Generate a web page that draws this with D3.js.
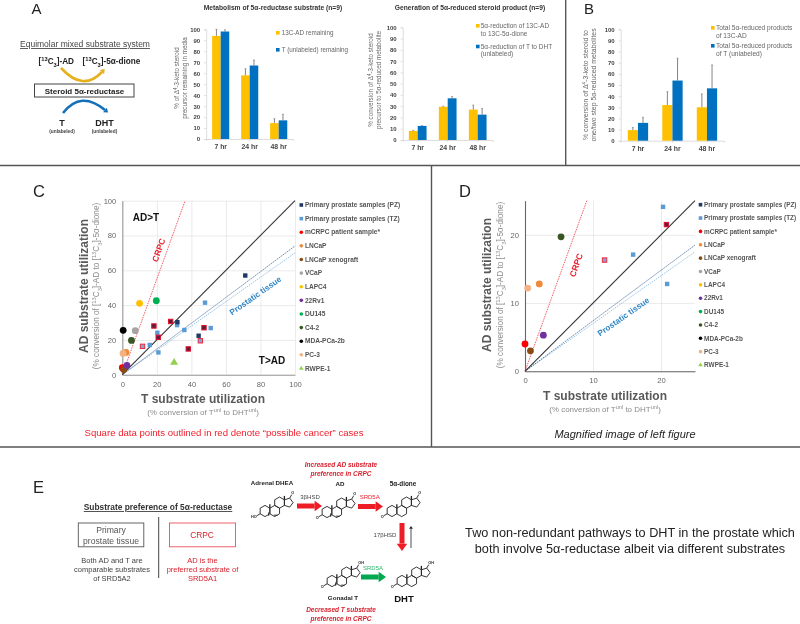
<!DOCTYPE html>
<html>
<head>
<meta charset="utf-8">
<script src="https://cdnjs.cloudflare.com/ajax/libs/d3/7.8.5/d3.min.js"></script>
<style>
html, body { margin: 0; padding: 0; background: #fff; }
svg { display: block; filter: blur(0.4px); }
text { font-family: "Liberation Sans", Arial, sans-serif; }
</style>
</head>
<body>
<svg id="fig" width="800" height="624"></svg>
<script>
// bar panels
var timeLabels = ["7 hr", "24 hr", "48 hr"];
var barTicks = [0, 10, 20, 30, 40, 50, 60, 70, 80, 90, 100];

var remainAD = [94, 58, 14.5];
var remainADErr = [6, 6, 4];
var remainT = [98, 67, 17];
var remainTErr = [1.5, 5, 5.5];

var reducedAD = [8, 29.5, 27];
var reducedADErr = [0.5, 0.5, 4];
var reducedT = [12.5, 37, 22.5];
var reducedTErr = [0.3, 1.5, 5.5];

var totalAD = [9.5, 32, 30];
var totalADErr = [2.5, 12, 12];
var totalT = [16, 54, 47];
var totalTErr = [5, 20, 21];

// scatter panels, [T, AD]
var pzSamples = [[71.2, 57], [31.9, 30.2], [44.2, 22.4]];
var tzSamples = [[47.9, 41.4], [20.3, 24.1], [20.9, 12.8], [35.9, 25.7], [31.7, 28.5], [51.2, 26.8], [15.9, 17.1]];
var cancerDark = [[28, 30.6], [18.3, 28], [20.8, 21.5], [38.2, 14.8], [47.3, 27]];
var cancerLight = [[11.7, 16.3], [45.2, 19.5]];

var legendNames = ["Primary prostate samples (PZ)", "Primary prostate samples (TZ)", "mCRPC patient sample*", "LNCaP", "LNCaP xenograft", "VCaP", "LAPC4", "22Rv1", "DU145", "C4-2", "MDA-PCa-2b", "PC-3", "RWPE-1"];
var legendColors = ["#1f3864", "#5b9bd5", "#ff0000", "#ed8b3a", "#8a4b12", "#a5a5a5", "#ffc000", "#7030a0", "#00b050", "#375623", "#000000", "#f4b183", "#92d050"];
var cellNames = ["mCRPC patient sample*", "LNCaP", "LNCaP xenograft", "VCaP", "LAPC4", "22Rv1", "DU145", "C4-2", "MDA-PCa-2b", "PC-3"];
var cellT = [0, 2.1, 0.8, 7.5, 10, 2.7, 19.7, 5.3, 0.5, 0.4];
var cellAD = [4, 12.8, 3, 25.3, 41, 5.3, 42.5, 19.7, 25.5, 12.2];
var rwpePoint = [30, 7];

var crpcSlope = 2.75;
var equalSlope = 1;
var tissueSlopes = [0.74, 0.70];

var yellow = "#ffc000", blue = "#0070c0";
var svg = d3.select("#fig");

function label(parent, x, y, str, size, fill, weight, anchor) {
	return parent.append("text").attr("x", x).attr("y", y).attr("font-size", size).attr("fill", fill || "#333")
		.attr("font-weight", weight || "normal").attr("text-anchor", anchor || "start").text(str);
}

// mixed normal / super / sub text, parts = [[str, "super"|"sub"|null]]
function rich(t, parts) {
	parts.forEach(function(p) {
		var s = t.append("tspan").text(p[0]);
		if (p[1]) s.attr("baseline-shift", p[1]).attr("font-size", "70%");
	});
	return t;
}

function turned(parent, x, y, angle, size, fill, weight) {
	return parent.append("text").attr("transform", "translate(" + x + "," + y + ") rotate(" + angle + ")")
		.attr("text-anchor", "middle").attr("font-size", size).attr("fill", fill).attr("font-weight", weight || "normal");
}

function barChart(o) {
	var g = svg.append("g");
	var x = d3.scaleBand().domain(timeLabels).range([o.x0, o.x1]).paddingInner(0.41).paddingOuter(0.205);
	var y = d3.scaleLinear().domain([0, 100]).range([o.y0, o.y1]);

	var ya = g.append("g").attr("transform", "translate(" + o.x0 + ",0)")
		.call(d3.axisLeft(y).tickValues(barTicks).tickSize(2).tickPadding(4));
	var xa = g.append("g").attr("transform", "translate(0," + o.y0 + ")")
		.call(d3.axisBottom(x).tickSize(2).tickPadding(3.5));
	ya.selectAll("text").attr("font-size", 6);
	xa.selectAll("text").attr("font-size", 6.9);
	[ya, xa].forEach(function(a) {
		a.selectAll("path,line").attr("stroke", "#d4d4d4").attr("stroke-width", 0.8);
		a.selectAll("text").attr("font-weight", "bold").attr("fill", "#444").attr("font-family", "Liberation Sans");
	});

	var bw = x.bandwidth() / 2;
	[[o.ad, o.adErr, yellow, 0], [o.t, o.tErr, blue, bw]].forEach(function(s) {
		var gg = g.append("g");
		gg.selectAll("rect").data(s[0]).enter().append("rect")
			.attr("x", function(d, i) { return x(timeLabels[i]) + s[3]; })
			.attr("y", function(d) { return y(d); })
			.attr("width", bw)
			.attr("height", function(d) { return o.y0 - y(d); })
			.attr("fill", s[2]);
		gg.selectAll(".err").data(s[0]).enter().append("line").attr("class", "err")
			.attr("x1", function(d, i) { return x(timeLabels[i]) + s[3] + bw / 2; })
			.attr("x2", function(d, i) { return x(timeLabels[i]) + s[3] + bw / 2; })
			.attr("y1", function(d) { return y(d); })
			.attr("y2", function(d, i) { return y(d + s[1][i]); })
			.attr("stroke", "#777").attr("stroke-width", 0.9);
		gg.selectAll(".cap").data(s[0]).enter().append("line").attr("class", "cap")
			.attr("x1", function(d, i) { return x(timeLabels[i]) + s[3] + bw / 2 - 1; })
			.attr("x2", function(d, i) { return x(timeLabels[i]) + s[3] + bw / 2 + 1; })
			.attr("y1", function(d, i) { return y(d + s[1][i]); })
			.attr("y2", function(d, i) { return y(d + s[1][i]); })
			.attr("stroke", "#777").attr("stroke-width", 0.6);
	});
	return g;
}

function scatter(o) {
	var g = svg.append("g");
	var x = d3.scaleLinear().domain([0, o.max]).range([o.x0, o.x1]);
	var y = d3.scaleLinear().domain([0, o.max]).range([o.y0, o.y1]);

	g.append("g").attr("transform", "translate(0," + o.y0 + ")")
		.call(d3.axisBottom(x).tickValues(o.ticks).tickSize(o.y1 - o.y0).tickPadding(0))
		.call(function(a) {
			a.select("path").remove();
			a.selectAll("line").attr("stroke", "#e2e2e2").attr("stroke-width", 0.7).attr("y2", o.y1 - o.y0);
			a.selectAll("text").remove();
		});
	g.append("g").attr("transform", "translate(" + o.x0 + ",0)")
		.call(d3.axisLeft(y).tickValues(o.ticks).tickSize(o.x0 - o.x1).tickPadding(0))
		.call(function(a) {
			a.select("path").remove();
			a.selectAll("line").attr("stroke", "#e2e2e2").attr("stroke-width", 0.7);
			a.selectAll("text").remove();
		});

	var xa = g.append("g").attr("transform", "translate(0," + o.y0 + ")")
		.call(d3.axisBottom(x).tickValues(o.ticks).tickSize(0).tickPadding(o.xpad));
	var ya = g.append("g").attr("transform", "translate(" + o.x0 + ",0)")
		.call(d3.axisLeft(y).tickValues(o.ticks).tickSize(0).tickPadding(6));
	[xa, ya].forEach(function(a) {
		a.selectAll("path").attr("stroke", o.axis).attr("stroke-width", 1.1);
		a.selectAll("text").attr("font-size", 7.6).attr("fill", "#666").attr("font-family", "Liberation Sans");
	});

	function guide(slope, color, width, dash) {
		var end = Math.min(o.max, o.max / slope);
		g.append("line").attr("x1", x(0)).attr("y1", y(0)).attr("x2", x(end)).attr("y2", y(end * slope))
			.attr("stroke", color).attr("stroke-width", width).attr("stroke-dasharray", dash);
	}
	guide(tissueSlopes[1], "#7fb2e0", 0.8, "1.5 1");
	guide(tissueSlopes[0], "#2f5d9a", 0.8, "1.5 1");
	guide(crpcSlope, "#f0333c", 0.8, "1.5 1");
	guide(equalSlope, "#333333", 1.1, null);

	function inside(p) { return p[0] <= o.max && p[1] <= o.max; }
	function squares(list, fill, line) {
		g.append("g").selectAll("rect").data(list.filter(inside)).enter().append("rect")
			.attr("x", function(d) { return x(d[0]) - 2.2; })
			.attr("y", function(d) { return y(d[1]) - 2.2; })
			.attr("width", 4.4).attr("height", 4.4)
			.attr("fill", fill).attr("stroke", line || "none").attr("stroke-width", 1);
	}
	squares(tzSamples, legendColors[1]);
	squares(pzSamples, legendColors[0]);
	squares(cancerLight, "#7da7d9", "#f0283c");
	squares(cancerDark, "#5a1f3f", "#e3122d");

	var shown = cellNames.map(function(n, i) { return [cellT[i], cellAD[i], legendColors[legendNames.indexOf(n)]]; }).filter(inside);
	g.append("g").selectAll("circle").data(shown).enter().append("circle")
		.attr("cx", function(d) { return x(d[0]); })
		.attr("cy", function(d) { return y(d[1]); })
		.attr("r", 3.4)
		.attr("fill", function(d) { return d[2]; });

	if (inside(rwpePoint)) {
		g.append("path").attr("d", d3.symbol().type(d3.symbolTriangle).size(28))
			.attr("transform", "translate(" + x(rwpePoint[0]) + "," + y(rwpePoint[1]) + ")")
			.attr("fill", legendColors[12]);
	}

	// axis titles
	turned(g, o.ytx, o.ytc, -90, 12, "#595959", "bold").text("AD substrate utilization");
	rich(turned(g, o.ytx + 11.5, o.ytc, -90, 8.2, "#8c8c8c"), [["(% conversion of [", null], ["13", "super"], ["C", null], ["3", "sub"], ["]-AD to [", null], ["13", "super"], ["C", null], ["3", "sub"], ["]-5α-dione)", null]]);
	label(g, o.xtc, o.xty, "T substrate utilization", 12, "#595959", "bold", "middle");
	rich(label(g, o.xtc, o.xty + 11.5, "", 8, "#8c8c8c", "normal", "middle"), [["(% conversion of T", null], ["unl", "super"], [" to DHT", null], ["unl", "super"], [")", null]]);

	turned(g, o.crpc[0], o.crpc[1], -71, 8.5, "#e8202e", "bold").text("CRPC");
	turned(g, o.tissue[0], o.tissue[1], -35, 8.2, "#2e86c8", "bold").text("Prostatic tissue");

	// legend
	var lg = g.append("g");
	legendNames.forEach(function(n, i) {
		var ly = o.lgy + i * o.lgs;
		if (i < 2) {
			lg.append("rect").attr("x", o.lgx - 1.8).attr("y", ly - 1.8).attr("width", 3.6).attr("height", 3.6).attr("fill", legendColors[i]);
		} else if (n === "RWPE-1") {
			lg.append("path").attr("d", d3.symbol().type(d3.symbolTriangle).size(9)).attr("transform", "translate(" + o.lgx + "," + ly + ")").attr("fill", legendColors[i]);
		} else {
			lg.append("circle").attr("cx", o.lgx).attr("cy", ly).attr("r", 1.8).attr("fill", legendColors[i]);
		}
		label(lg, o.lgx + 3.6, ly + 2.2, n, o.lgf, "#555", "bold");
	});
	return g;
}

// panel frame
svg.append("g").attr("stroke", "#555").attr("stroke-width", 1.4).selectAll("line")
	.data([[0, 165.5, 800, 165.5], [565.7, 0, 565.7, 165.5], [0, 447, 800, 447], [431.5, 165.5, 431.5, 447]])
	.enter().append("line")
	.attr("x1", function(d) { return d[0]; }).attr("y1", function(d) { return d[1]; })
	.attr("x2", function(d) { return d[2]; }).attr("y2", function(d) { return d[3]; });

[["A", 31.5, 14, 15], ["B", 584, 14, 15], ["C", 33, 197, 16.5], ["D", 459, 197, 16.5], ["E", 33, 493, 16.5]].forEach(function(p) {
	label(svg, p[1], p[2], p[0], p[3], "#222");
});

// panel A/B bars
barChart({ x0: 206.2, x1: 293.2, y0: 139, y1: 29.3, ad: remainAD, adErr: remainADErr, t: remainT, tErr: remainTErr });
barChart({ x0: 402.7, x1: 492.7, y0: 140, y1: 27.3, ad: reducedAD, adErr: reducedADErr, t: reducedT, tErr: reducedTErr });
barChart({ x0: 620.7, x1: 724.2, y0: 140.7, y1: 29.3, ad: totalAD, adErr: totalADErr, t: totalT, tErr: totalTErr });

label(svg, 273, 10, "Metabolism of 5α-reductase substrate (n=9)", 6.7, "#333", "bold", "middle");
label(svg, 470, 10, "Generation of  5α-reduced steroid product (n=9)", 6.7, "#333", "bold", "middle");

function ylab(x, yc, lines, size) {
	lines.forEach(function(l, i) {
		rich(turned(svg, x + i * 8, yc, -90, size, "#666"), l);
	});
}
ylab(178.5, 78, [[["% of Δ", null], ["4", "super"], ["-3-keto steroid", null]], [["precursor remaining in media", null]]], 6.3);
ylab(372.5, 80, [[["% conversion of Δ", null], ["4", "super"], ["-3-keto steroid", null]], [["precursor to 5α-reduced metabolite", null]]], 6.3);
ylab(587.5, 85, [[["% conversion of Δ", null], ["4", "super"], ["-3-keto steroid to", null]], [["one/two step 5α-reduced metabolites", null]]], 6.9);

function barKey(sx, tx, rows, size, step) {
	rows.forEach(function(r) {
		svg.append("rect").attr("x", sx).attr("y", r[0] - 2).attr("width", 3.6).attr("height", 3.6).attr("fill", r[1]);
		r[2].forEach(function(l, i) {
			label(svg, tx, r[0] + 2 + i * step, l, size, "#666");
		});
	});
}
barKey(276, 281.7, [[33, yellow, ["13C-AD remaining"]], [50, blue, ["T (unlabeled) remaining"]]], 6.3, 8);
barKey(476, 480.7, [[26, yellow, ["5α-reduction of 13C-AD", "to 13C-5α-dione"]], [46.7, blue, ["5α-reduction of T to DHT", "(unlabeled)"]]], 6.5, 7.5);
barKey(711, 716, [[28, yellow, ["Total 5α-reduced products", "of 13C-AD"]], [46, blue, ["Total 5α-reduced products", "of T (unlabeled)"]]], 6.6, 7.5);

// scheme in panel A
label(svg, 85, 47, "Equimolar mixed substrate system", 8.5, "#444", "normal", "middle").attr("text-decoration", "underline");
rich(label(svg, 38.5, 64, "", 8.2, "#222", "bold"), [["[", null], ["13", "super"], ["C", null], ["3", "sub"], ["]-AD", null]]);
rich(label(svg, 82.5, 64, "", 8.2, "#222", "bold"), [["[", null], ["13", "super"], ["C", null], ["3", "sub"], ["]-5α-dione", null]]);
svg.append("rect").attr("x", 34.5).attr("y", 84).attr("width", 99.5).attr("height", 13).attr("fill", "#fff").attr("stroke", "#444").attr("stroke-width", 1);
label(svg, 84.5, 94, "Steroid 5α-reductase", 8, "#222", "bold", "middle");
label(svg, 62, 126, "T", 9, "#222", "bold", "middle");
label(svg, 104.5, 126, "DHT", 9, "#222", "bold", "middle");
label(svg, 62, 133, "(unlabeled)", 4.8, "#444", "bold", "middle");
label(svg, 104.5, 133, "(unlabeled)", 4.8, "#444", "bold", "middle");

function curveArrow(p0, c, p1, color, width, headSize) {
	var path = d3.path();
	path.moveTo(p0[0], p0[1]);
	path.quadraticCurveTo(c[0], c[1], p1[0], p1[1]);
	svg.append("path").attr("d", path.toString()).attr("fill", "none").attr("stroke", color).attr("stroke-width", width);
	var a = Math.atan2(p1[1] - c[1], p1[0] - c[0]);
	var h = d3.path();
	h.moveTo(p1[0] + Math.cos(a) * headSize, p1[1] + Math.sin(a) * headSize);
	h.lineTo(p1[0] + Math.cos(a + 1.6) * headSize * 0.75, p1[1] + Math.sin(a + 1.6) * headSize * 0.75);
	h.lineTo(p1[0] + Math.cos(a - 1.6) * headSize * 0.75, p1[1] + Math.sin(a - 1.6) * headSize * 0.75);
	h.closePath();
	svg.append("path").attr("d", h.toString()).attr("fill", color);
}
curveArrow([61, 68], [83, 92], [102, 72], "#e6b01e", 2.6, 4);
curveArrow([63, 113], [81, 90], [105, 110], "#1470b8", 2.6, 4);

// scatter panels
scatter({
	max: 100, ticks: [0, 20, 40, 60, 80, 100], x0: 122.3, x1: 295, y0: 374.7, y1: 200.7, axis: "#9a9a9a", xpad: 7,
	ytx: 87.5, ytc: 286, xtc: 203, xty: 403, crpc: [161.5, 251], tissue: [257, 298],
	lgx: 301.3, lgy: 205, lgs: 13.62, lgf: 6.6
});
scatter({
	max: 25, ticks: [0, 10, 20], x0: 525, x1: 695, y0: 371.3, y1: 200.7, axis: "#666", xpad: 6,
	ytx: 491, ytc: 285, xtc: 605, xty: 400, crpc: [579, 266], tissue: [625, 319],
	lgx: 700.5, lgy: 204.7, lgs: 13.36, lgf: 6.4
});
label(svg, 146, 221, "AD>T", 10, "#111", "bold", "middle");
label(svg, 272, 364, "T>AD", 10, "#111", "bold", "middle");
label(svg, 224, 435.5, "Square data points outlined in red denote “possible cancer” cases", 9.6, "#f0202e", "normal", "middle");
label(svg, 625, 437.5, "Magnified image of left figure", 11, "#222", "normal", "middle").attr("font-style", "italic");

// panel E, left side
label(svg, 158, 510, "Substrate preference of 5α-reductase", 8.4, "#333", "bold", "middle").attr("text-decoration", "underline");
svg.append("rect").attr("x", 78.3).attr("y", 523).attr("width", 65.5).attr("height", 23.8).attr("fill", "none").attr("stroke", "#555").attr("stroke-width", 0.9);
label(svg, 111, 532.7, "Primary", 8.6, "#555", "normal", "middle");
label(svg, 111, 544, "prostate tissue", 8.6, "#555", "normal", "middle");
svg.append("rect").attr("x", 169.5).attr("y", 523).attr("width", 66).attr("height", 23.8).attr("fill", "none").attr("stroke", "#e8505a").attr("stroke-width", 0.9);
label(svg, 202, 538, "CRPC", 8.4, "#d8222e", "normal", "middle");
svg.append("line").attr("x1", 158.7).attr("x2", 158.7).attr("y1", 517).attr("y2", 578).attr("stroke", "#444").attr("stroke-width", 1);
["Both AD and T are", "comparable substrates", "of SRD5A2"].forEach(function(l, i) {
	label(svg, 112, 562.7 + i * 9.2, l, 7.5, "#444", "normal", "middle");
});
["AD is the", "preferred substrate of", "SRD5A1"].forEach(function(l, i) {
	label(svg, 202.5, 562.7 + i * 9.2, l, 7.5, "#d8222e", "normal", "middle");
});

// steroid skeleton, (ax, ay) is the centre of ring A
function steroid(ax, ay, opt) {
	var s = 5.6, r3 = Math.sqrt(3);
	var hex = function(cx, cy) {
		return d3.range(6).map(function(i) {
			var a = Math.PI / 6 + i * Math.PI / 3;
			return [cx + s * Math.cos(a), cy + s * Math.sin(a)];
		});
	};
	var cC = [ax + 1.5 * r3 * s, ay - 1.5 * s];
	var rx = ax + 2 * r3 * s;
	var pent = [[rx, cC[1] - s / 2], [rx + s * 0.95, cC[1] - s * 0.8], [rx + s * 1.55, cC[1]], [rx + s * 0.95, cC[1] + s * 0.8], [rx, cC[1] + s / 2]];
	var line = d3.line().curve(d3.curveLinearClosed);
	var g = svg.append("g").attr("fill", "none").attr("stroke", "#222").attr("stroke-width", 0.9);
	[hex(ax, ay), hex(ax + r3 * s, ay), hex(cC[0], cC[1]), pent].forEach(function(r) {
		g.append("path").attr("d", line(r));
	});
	// 3 position
	var c3 = [ax - r3 * s / 2, ay + s / 2];
	g.append("line").attr("x1", c3[0]).attr("y1", c3[1]).attr("x2", c3[0] - 3.5).attr("y2", c3[1] + 2);
	label(svg, c3[0] - 3.5, c3[1] + 4.5, opt.oh3 ? "HO" : "O", 3.8, "#222", "bold", "end");
	// 17 position
	var c17 = pent[1];
	g.append("line").attr("x1", c17[0]).attr("y1", c17[1]).attr("x2", c17[0] + 2).attr("y2", c17[1] - 3.5);
	label(svg, c17[0] + 1.5, c17[1] - 4, opt.oh17 ? "OH" : "O", 3.8, "#222", "bold");
	// methyls
	g.append("line").attr("x1", ax + r3 * s / 2).attr("y1", ay - s / 2).attr("x2", ax + r3 * s / 2).attr("y2", ay - s * 1.2).attr("stroke-width", 1.3);
	g.append("line").attr("x1", rx).attr("y1", cC[1] - s / 2).attr("x2", rx).attr("y2", cC[1] - s * 1.2).attr("stroke-width", 1.3);
	// double bond
	if (opt.dbl) {
		g.append("line").attr("x1", ax + s * 0.65).attr("y1", ay + s * 0.25).attr("x2", ax + s * 0.65).attr("y2", ay + s * 0.85);
		g.append("line").attr("x1", ax + r3 * s * 0.9).attr("y1", ay + s * 0.75).attr("x2", ax + r3 * s * 1.3).attr("y2", ay + s * 0.75);
	}
}
steroid(265, 511, { oh3: true, dbl: true });
steroid(327, 512, { dbl: true });
steroid(392, 511, {});
steroid(332, 581, { oh17: true, dbl: true });
steroid(402, 581, { oh17: true });

function blockArrow(x1, y1, x2, y2, color, width, head) {
	var a = Math.atan2(y2 - y1, x2 - x1), hl = head * 1.05;
	var bx = x2 - Math.cos(a) * hl, by = y2 - Math.sin(a) * hl;
	svg.append("line").attr("x1", x1).attr("y1", y1).attr("x2", bx).attr("y2", by).attr("stroke", color).attr("stroke-width", width);
	var h = d3.path();
	h.moveTo(x2, y2);
	h.lineTo(bx + Math.sin(a) * head * 0.75, by - Math.cos(a) * head * 0.75);
	h.lineTo(bx - Math.sin(a) * head * 0.75, by + Math.cos(a) * head * 0.75);
	h.closePath();
	svg.append("path").attr("d", h.toString()).attr("fill", color);
}
blockArrow(297, 506, 322, 506, "#ee1c25", 5, 7);
blockArrow(358, 506.5, 383, 506.5, "#ee1c25", 5, 7);
blockArrow(402, 523, 402, 551, "#ee1c25", 5, 7);
blockArrow(411, 548, 411, 526, "#222", 0.8, 2.6);
blockArrow(361, 577, 386, 577, "#00a850", 5, 7);

label(svg, 272, 484.7, "Adrenal DHEA", 6.2, "#222", "bold", "middle");
label(svg, 340, 485.5, "AD", 6.2, "#222", "bold", "middle");
label(svg, 403, 485.5, "5α-dione", 6.4, "#222", "bold", "middle");
label(svg, 343, 600, "Gonadal T", 6.2, "#222", "bold", "middle");
label(svg, 404, 602, "DHT", 9.5, "#111", "bold", "middle");
label(svg, 310, 498.7, "3βHSD", 6, "#444", "normal", "middle");
label(svg, 369.7, 498.7, "SRD5A", 6, "#e8202e", "normal", "middle");
label(svg, 385, 537, "17βHSD", 6, "#444", "normal", "middle");
label(svg, 373, 570, "SRD5A", 6, "#2cb567", "normal", "middle");
label(svg, 341, 467, "Increased AD substrate", 6.5, "#d8222e", "bold", "middle").attr("font-style", "italic");
label(svg, 341, 475.5, "preference in CRPC", 6.5, "#d8222e", "bold", "middle").attr("font-style", "italic");
label(svg, 341, 612, "Decreased T substrate", 6.5, "#d8222e", "bold", "middle").attr("font-style", "italic");
label(svg, 341, 620.5, "preference in CRPC", 6.5, "#d8222e", "bold", "middle").attr("font-style", "italic");

label(svg, 630, 537, "Two non-redundant pathways to DHT in the prostate which", 12.7, "#222", "normal", "middle");
label(svg, 630, 553, "both involve 5α-reductase albeit via different substrates", 12.7, "#222", "normal", "middle");
</script>
</body>
</html>
